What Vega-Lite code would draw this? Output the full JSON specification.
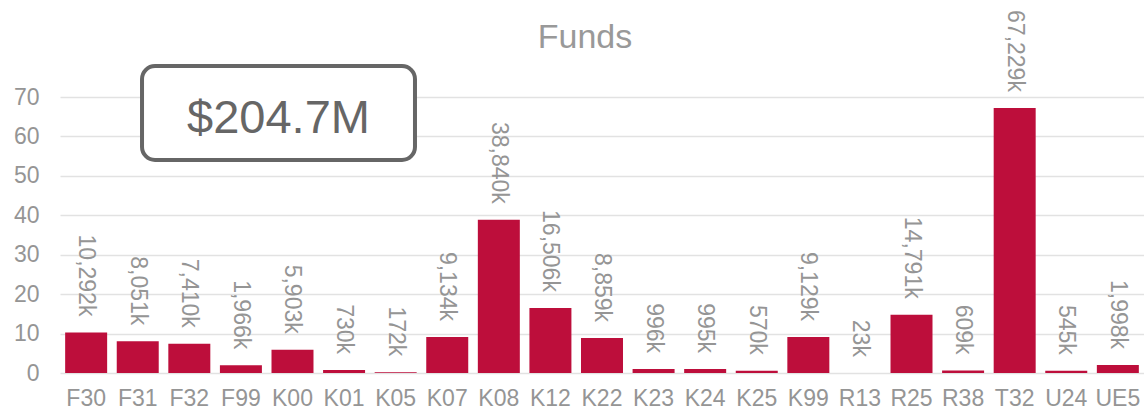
{
  "$schema": "https://vega.github.io/schema/vega-lite/v6.json",
  "width": 1084,
  "height": 276,
  "autosize": {"type": "none"},
  "padding": {"left": 60, "top": 97, "right": 0, "bottom": 39},
  "background": "white",
  "title": {"text": "Funds", "fontSize": 34, "color": "#999999", "font": "Liberation Sans", "fontWeight": "normal", "anchor": "middle", "frame": "group", "dx": -17, "offset": -45},
  "config": {"view": {"stroke": null}, "font": "Liberation Sans"},
  "layer": [
    {
      "data": {"values": [
        {"code": "F30", "funds_k": 10292},
        {"code": "F31", "funds_k": 8051},
        {"code": "F32", "funds_k": 7410},
        {"code": "F99", "funds_k": 1966},
        {"code": "K00", "funds_k": 5903},
        {"code": "K01", "funds_k": 730},
        {"code": "K05", "funds_k": 172},
        {"code": "K07", "funds_k": 9134},
        {"code": "K08", "funds_k": 38840},
        {"code": "K12", "funds_k": 16506},
        {"code": "K22", "funds_k": 8859},
        {"code": "K23", "funds_k": 996},
        {"code": "K24", "funds_k": 995},
        {"code": "K25", "funds_k": 570},
        {"code": "K99", "funds_k": 9129},
        {"code": "R13", "funds_k": 23},
        {"code": "R25", "funds_k": 14791},
        {"code": "R38", "funds_k": 609},
        {"code": "T32", "funds_k": 67229},
        {"code": "U24", "funds_k": 545},
        {"code": "UE5", "funds_k": 1998}
      ]},
      "encoding": {
        "x": {"field": "code", "type": "nominal", "sort": null,
              "scale": {"paddingInner": 0.186, "paddingOuter": 0.1},
              "axis": {"labelAngle": 0, "domain": false, "ticks": false, "labelPadding": 14, "labelFontSize": 23, "labelColor": "#959595", "title": null, "grid": false}},
        "y": {"field": "funds_k", "type": "quantitative",
              "scale": {"domain": [0, 70000], "nice": false},
              "axis": {"values": [0, 10000, 20000, 30000, 40000, 50000, 60000, 70000], "labelOverlap": false, "labelExpr": "datum.value / 1000", "grid": true, "gridColor": "#e2e2e2", "gridWidth": 1.5, "domain": false, "ticks": false, "labelPadding": 21, "labelFontSize": 23, "labelColor": "#959595", "title": null}}
      },
      "layer": [
        {"mark": {"type": "bar", "color": "#BD0E3B"}},
        {"mark": {"type": "text", "angle": 90, "align": "right", "baseline": "middle", "dx": -16, "fontSize": 23, "color": "#959595", "text": {"expr": "format(datum.funds_k, ',') + 'k'"}}}
      ]
    },
    {
      "data": {"values": [{"total": "$204.7M"}]},
      "layer": [
        {"mark": {"type": "rect", "fill": "white", "stroke": "#666666", "strokeWidth": 4, "cornerRadius": 13},
         "encoding": {
           "x": {"datum": 1.589, "type": "quantitative", "scale": {"domain": [0, 21], "nice": false, "zero": false}, "axis": null},
           "x2": {"datum": 6.877},
           "y": {"datum": 77862, "type": "quantitative", "axis": null},
           "y2": {"datum": 54022}
         }},
        {"mark": {"type": "text", "fontSize": 47, "color": "#666666", "baseline": "middle", "align": "center"},
         "encoding": {
           "x": {"datum": 4.233, "type": "quantitative", "scale": {"domain": [0, 21], "nice": false, "zero": false}, "axis": null},
           "y": {"datum": 64522, "type": "quantitative", "axis": null},
           "text": {"field": "total"}
         }}
      ]
    }
  ],
  "resolve": {"scale": {"x": "independent"}, "axis": {"y": "independent"}}
}
